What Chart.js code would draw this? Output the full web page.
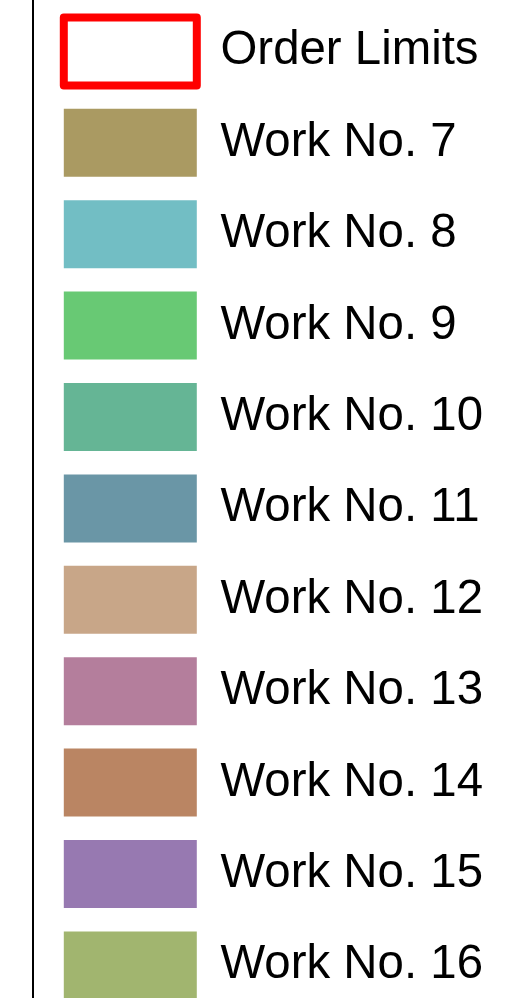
<!DOCTYPE html>
<html>
<head>
<meta charset="utf-8">
<script src="https://cdn.jsdelivr.net/npm/chart.js@4/dist/chart.umd.min.js"></script>
<style>
    html, body { margin: 0; padding: 0; background: #fff; overflow: hidden; }
    #wrap { position: relative; width: 517px; height: 998px; overflow: hidden; }
    #chart { position: absolute; top: -6px; left: 0; }
</style>
</head>
<body>
<div id="wrap">
    <canvas id="chart" width="2000" height="1040"></canvas>
</div>
<script>
    // Only the legend strip of the chart is visible in the reference,
    // the plot area is cut off at the left edge, so no bar values can be read.
    const categories = [];

    const limitLabel = 'Order Limits';
    const limitValues = [];

    const workLabels = [
        'Work No. 7', 'Work No. 8', 'Work No. 9', 'Work No. 10', 'Work No. 11',
        'Work No. 12', 'Work No. 13', 'Work No. 14', 'Work No. 15', 'Work No. 16'
    ];
    const workValues = [[], [], [], [], [], [], [], [], [], []];

    const workColors = [
        '#aa9a62', '#72bec4', '#68c974', '#65b595', '#6a96a6',
        '#c8a688', '#b47e9c', '#ba8563', '#9779b1', '#a1b56f'
    ];

    const datasets = [{
        type: 'line',
        label: limitLabel,
        data: limitValues,
        borderColor: '#ff0000',
        backgroundColor: '#ffffff',
        borderWidth: 8,
        borderJoinStyle: 'round'
    }];

    workLabels.forEach((label, i) => {
        datasets.push({
            label: label,
            data: workValues[i],
            backgroundColor: workColors[i],
            borderWidth: 0,
            stack: 'work'
        });
    });

    const canvas = document.getElementById('chart');
    const chart = new Chart(canvas.getContext('2d'), {
        type: 'bar',
        data: { labels: categories, datasets: datasets },
        options: {
            responsive: false,
            animation: false,
            layout: { padding: 0 },
            scales: {
                x: { display: false, stacked: true },
                y: {
                    position: 'right',
                    stacked: true,
                    ticks: { display: false },
                    grid: { display: false },
                    border: { display: true, color: '#000', width: 2 },
                    afterFit: function(scale) { scale.width = 7.3; }
                }
            },
            plugins: {
                tooltip: { enabled: false },
                legend: {
                    position: 'right',
                    align: 'start',
                    labels: {
                        boxWidth: 133,
                        boxHeight: 68,
                        padding: 23.4,
                        color: '#000',
                        font: { family: '"Liberation Sans", Arial, sans-serif', size: 47.4 }
                    }
                }
            }
        }
    });

    // Slide the canvas so the legend column lands where it sits in the picture
    const shift = Math.round(64 - 23.4 - chart.legend.left);
    canvas.style.left = shift + 'px';
</script>
</body>
</html>
